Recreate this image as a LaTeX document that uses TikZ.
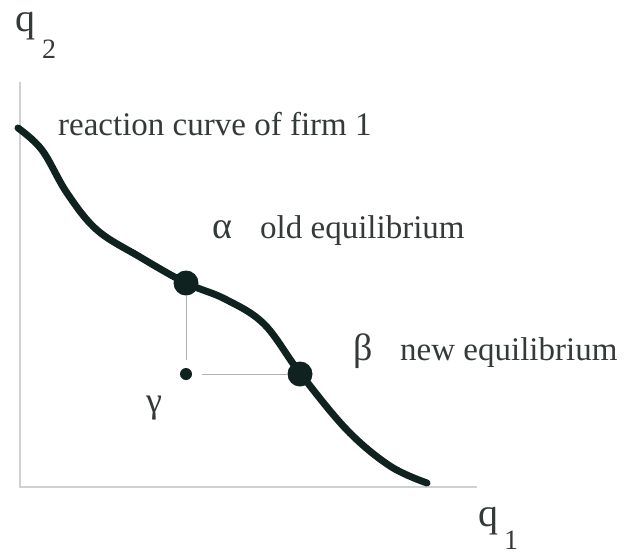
\documentclass[tikz,border=0pt]{standalone}
\usepackage{fontspec}
\setmainfont{Liberation Serif}
\usepackage{tikz}
\usetikzlibrary{positioning, calc}
\definecolor{curvecol}{RGB}{16, 34, 32}
\definecolor{axiscol}{RGB}{205, 210, 208}
\definecolor{textcol}{RGB}{52, 58, 56}

\begin{document}
\begin{tikzpicture}[x=1pt, y=-1pt,
    axis/.style={draw=axiscol, line width=1.2pt},
    guide/.style={draw=axiscol!85!black, line width=0.9pt},
    eqdot/.style={circle, fill=curvecol, inner sep=0pt, minimum size=#1},
    lbl/.style={text=textcol, font=\fontsize{33}{36}\selectfont, inner sep=0pt, anchor=base west}]
  \useasboundingbox (0,0) rectangle (627,555);

  \coordinate (origin) at (20,487);
  \coordinate (ytop) at (20,82);
  \coordinate (xend) at (477,487);
  \draw[axis] (ytop) -- (origin) -- (xend);

  \draw[curvecol, line width=7pt, line cap=round]
    plot[smooth, tension=0.6] coordinates {(18,128) (42,150) (67,193) (97,230) (140,257)
      (186,283) (225,299) (264,324) (300,373) (347,430) (390,466) (427,483)};

  \node[eqdot=25pt] (alpha) at (186,283) {};
  \node[eqdot=25pt] (beta) at (300,374) {};
  \node[eqdot=12pt] (gamma) at (186,374) {};
  \draw[guide, shorten >=8pt] (alpha) -- (gamma);
  \draw[guide, shorten <=10pt] (gamma) -- (beta);

  \node[lbl] (q2) at (15,31) {\fontsize{40}{42}\selectfont q};
  \node[lbl] (q2sub) at (42,58) {\fontsize{28}{30}\selectfont 2};
  \node[lbl] (q1) at (478,526) {\fontsize{40}{42}\selectfont q};
  \node[lbl] (q1sub) at (504,549) {\fontsize{28}{30}\selectfont 1};

  \node[lbl] (rctext) at (58,135) {reaction curve of firm 1};
  \node[lbl] (alphalbl) at (212,238) {\fontsize{38}{40}\selectfont α};
  \node[lbl] (oldeq) at (260,238) {old equilibrium};
  \node[lbl] (betalbl) at (353,360) {\fontsize{38}{40}\selectfont β};
  \node[lbl] (neweq) at (400,360) {new equilibrium};
  \node[lbl] (gammalbl) at (146,412) {\fontsize{36}{40}\selectfont γ};
\end{tikzpicture}
\end{document}
